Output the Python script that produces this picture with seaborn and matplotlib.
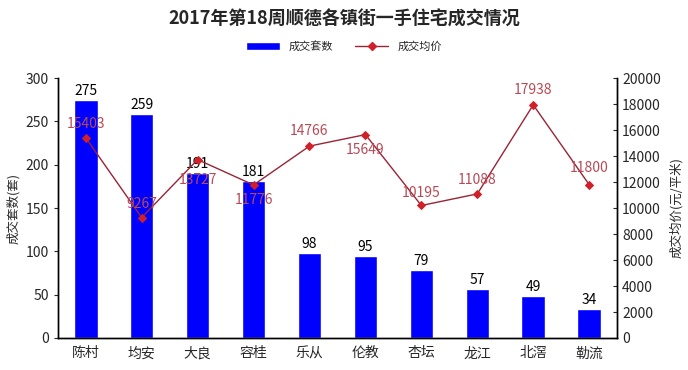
import numpy as np
import pandas as pd
import seaborn as sns
import matplotlib.pyplot as plt
from matplotlib.lines import Line2D
from matplotlib.patches import Patch

towns = ['陈村', '均安', '大良', '容桂', '乐从', '伦教', '杏坛', '龙江', '北滘', '勒流']
units = [275, 259, 191, 181, 98, 95, 79, 57, 49, 34]
prices = [15403, 9267, 13727, 11776, 14766, 15649, 10195, 11088, 17938, 11800]

sns.set_style('white')
plt.rcParams['font.family'] = ['Noto Sans CJK SC', 'DejaVu Sans']

df = pd.DataFrame({'town': towns, 'units': units, 'price': prices})

fig = plt.figure(figsize=(6.88, 3.70), dpi=100)
ax = fig.add_axes([0.084, 0.0865, 0.813, 0.7025])

bar_blue = '#0000FF'
line_red = '#9B2335'
mark_red = '#D0202A'
lab_red = '#B84A55'

sns.barplot(data=df, x='town', y='units', color=bar_blue, width=0.42,
            saturation=1, ax=ax)
ax.set_ylim(0, 300)
ax.set_yticks(range(0, 301, 50))
ax.set_xlim(-0.5, len(towns) - 0.5)
ax.set_xlabel('')
ax.set_ylabel('成交套数(套)', fontsize=9)
ax.tick_params(axis='y', labelsize=10, length=3, direction='out', left=True)
ax.tick_params(axis='x', labelsize=10, length=0, pad=6)
for i, v in enumerate(units):
    ax.text(i, v + 2, str(v), ha='center', va='bottom', fontsize=10, color='black')

ax2 = ax.twinx()
sns.pointplot(data=df, x='town', y='price', color=line_red, markers='D',
              markersize=4, linewidth=1, ax=ax2)
for ln in ax2.lines:
    ln.set_markerfacecolor(mark_red)
    ln.set_markeredgecolor(mark_red)
ax2.set_ylim(0, 20000)
ax2.set_yticks(range(0, 20001, 2000))
ax2.set_xlim(-0.5, len(towns) - 0.5)
ax2.set_ylabel('成交均价(元/平米)', fontsize=9, rotation=90, labelpad=6)
ax2.tick_params(axis='y', labelsize=10, length=3, direction='in', right=True)

# label offsets (points): most above, a few below
offs = [10, 10, -15, -11, 11, -11, 9, 10, 11, 12]
for i, (p, o) in enumerate(zip(prices, offs)):
    ax2.annotate(str(p), (i, p), xytext=(0, o), textcoords='offset points',
                 ha='center', va='center', fontsize=10, color=lab_red)

for a in (ax, ax2):
    a.spines['top'].set_visible(False)
    for s in ('left', 'right', 'bottom'):
        a.spines[s].set_color('black')
        a.spines[s].set_linewidth(1)

fig.suptitle('2017年第18周顺德各镇街一手住宅成交情况', y=0.975, fontsize=13,
             fontweight='bold')
handles = [Patch(facecolor=bar_blue, label='成交套数'),
           Line2D([0], [0], color=line_red, marker='D', markersize=4,
                  markerfacecolor=mark_red, markeredgecolor=mark_red, lw=1,
                  label='成交均价')]
fig.legend(handles=handles, loc='center', bbox_to_anchor=(0.5, 0.875), ncol=2,
           frameon=False, fontsize=8, handlelength=3, columnspacing=2)

fig.savefig('out.png', dpi=100)
